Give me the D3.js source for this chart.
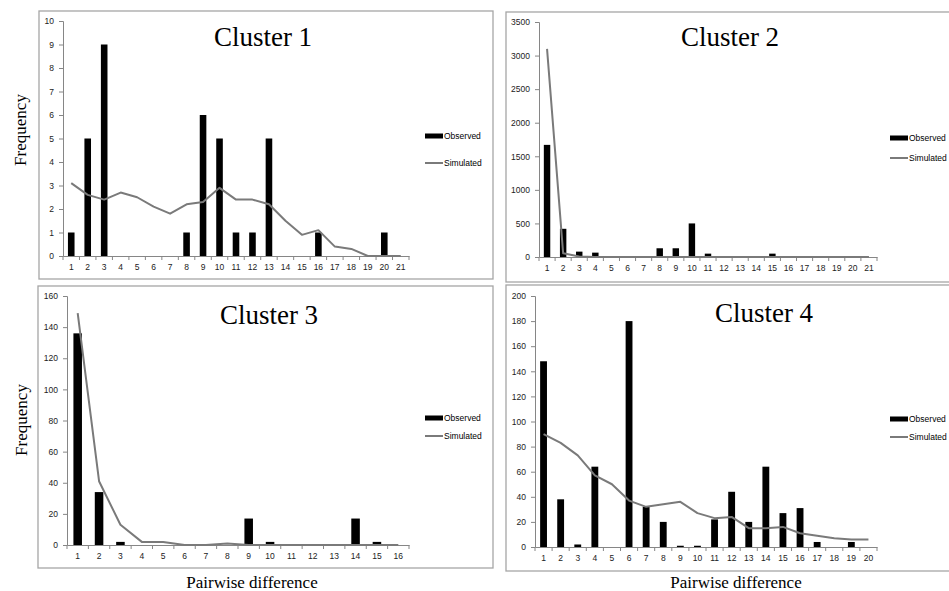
<!DOCTYPE html>
<html>
<head>
<meta charset="utf-8">
<script src="https://cdn.jsdelivr.net/npm/d3@7"></script>
<style>
  body { margin: 0; background: #fff; }
  svg { display: block; }
</style>
</head>
<body>
<div id="chart"></div>
<script>
// pairwise difference (mismatch) distributions, four clusters

var c1Observed  = [1, 5, 9, 0, 0, 0, 0, 1, 6, 5, 1, 1, 5, 0, 0, 1, 0, 0, 0, 1, 0];
var c1Simulated = [3.1, 2.6, 2.4, 2.7, 2.5, 2.1, 1.8, 2.2, 2.3, 2.9, 2.4, 2.4, 2.2, 1.5, 0.9, 1.1, 0.4, 0.3, 0, 0, 0];

var c2Observed  = [1670, 420, 80, 65, 0, 0, 0, 130, 130, 500, 50, 0, 0, 0, 50, 0, 0, 0, 0, 0, 0];
var c2Simulated = [3100, 55, 8, 0, 0, 0, 0, 0, 0, 0, 0, 0, 0, 0, 0, 0, 0, 0, 0, 0, 0];

var c3Observed  = [136, 34, 2, 0, 0, 0, 0, 0, 17, 2, 0, 0, 0, 17, 2, 0];
var c3Simulated = [149, 41, 13, 2, 2, 0, 0, 1, 0, 0, 0, 0, 0, 0, 0, 0];

var c4Observed  = [148, 38, 2, 64, 0, 180, 32, 20, 1, 1, 22, 44, 20, 64, 27, 31, 4, 0, 4, 0];
var c4Simulated = [90, 83, 73, 57, 50, 37, 32, 34, 36, 27, 23, 24, 15, 15, 16, 11, 9, 7, 6, 6];

var titles = ["Cluster 1", "Cluster 2", "Cluster 3", "Cluster 4"];
var yMaxes = [10, 3500, 160, 200];
var ySteps = [1, 500, 20, 20];

var svg = d3.select("#chart").append("svg")
  .attr("width", 949)
  .attr("height", 591);

var sans = "Liberation Sans, Arial, sans-serif";
var serif = "Liberation Serif, Times New Roman, serif";

var panels = [
  {obs: c1Observed, sim: c1Simulated, box: [39, 11, 493, 279], x0: 63, x1: 409, yTop: 21, yBot: 256,
   title: [263, 46], leg: [425, 136, 163]},
  {obs: c2Observed, sim: c2Simulated, box: [506, 12, 960, 282], x0: 539, x1: 877, yTop: 22, yBot: 257,
   title: [730, 46], leg: [890, 138, 158]},
  {obs: c3Observed, sim: c3Simulated, box: [38, 286, 493, 568], x0: 67, x1: 409, yTop: 296, yBot: 545,
   title: [269, 324], leg: [425, 418, 436]},
  {obs: c4Observed, sim: c4Simulated, box: [506, 285, 960, 571], x0: 535, x1: 877, yTop: 296, yBot: 547,
   title: [764, 322], leg: [890, 419, 437]}
];

panels.forEach(function(p, i) {
  var g = svg.append("g");
  var n = p.obs.length;
  var cats = d3.range(1, n + 1);

  // frame
  g.append("rect")
    .attr("x", p.box[0]).attr("y", p.box[1])
    .attr("width", p.box[2] - p.box[0]).attr("height", p.box[3] - p.box[1])
    .attr("fill", "none").attr("stroke", "#a6a6a6").attr("stroke-width", 1.3);

  var x = d3.scaleBand().domain(cats).range([p.x0, p.x1]).padding(0);
  var y = d3.scaleLinear().domain([0, yMaxes[i]]).range([p.yBot, p.yTop]);

  // y axis
  var yAxis = g.append("g")
    .attr("transform", "translate(" + p.x0 + ",0)")
    .call(d3.axisLeft(y)
      .tickValues(d3.range(0, yMaxes[i] + 1, ySteps[i]))
      .tickFormat(d3.format("d"))
      .tickSize(4).tickPadding(5));
  // x axis, ticks between categories
  var xAxis = g.append("g")
    .attr("transform", "translate(0," + p.yBot + ")")
    .call(d3.axisBottom(x).tickSize(0).tickPadding(8));
  xAxis.selectAll(".sep")
    .data(d3.range(0, n + 1))
    .enter().append("line")
      .attr("x1", function(k) { return p.x0 + k * x.bandwidth(); })
      .attr("x2", function(k) { return p.x0 + k * x.bandwidth(); })
      .attr("y1", 0).attr("y2", 4)
      .attr("stroke", "#868686");

  [yAxis, xAxis].forEach(function(a) {
    a.select(".domain").attr("stroke", "#868686");
    a.selectAll(".tick line").attr("stroke", "#868686");
    a.selectAll("text")
      .style("font-family", sans)
      .style("font-size", "8.5px")
      .attr("fill", "#222");
  });

  // bars
  var bw = x.bandwidth() * 0.4;
  g.selectAll(".bar")
    .data(p.obs)
    .enter().append("rect")
      .attr("x", function(d, k) { return x(cats[k]) + (x.bandwidth() - bw) / 2; })
      .attr("y", function(d) { return y(d); })
      .attr("width", bw)
      .attr("height", function(d) { return p.yBot - y(d); })
      .attr("fill", "#000");

  // simulated line
  var line = d3.line()
    .x(function(d, k) { return x(cats[k]) + x.bandwidth() / 2; })
    .y(function(d) { return y(d); });
  g.append("path")
    .datum(p.sim)
    .attr("d", line)
    .attr("fill", "none")
    .attr("stroke", "#7a7a7a")
    .attr("stroke-width", 2)
    .attr("stroke-linejoin", "round");

  // title
  g.append("text")
    .attr("x", p.title[0]).attr("y", p.title[1])
    .attr("text-anchor", "middle")
    .style("font-family", serif)
    .style("font-size", "27px")
    .text(titles[i]);

  // legend
  g.append("rect")
    .attr("x", p.leg[0]).attr("y", p.leg[1] - 2.5)
    .attr("width", 18).attr("height", 5)
    .attr("fill", "#000");
  g.append("line")
    .attr("x1", p.leg[0]).attr("x2", p.leg[0] + 18)
    .attr("y1", p.leg[2]).attr("y2", p.leg[2])
    .attr("stroke", "#7a7a7a").attr("stroke-width", 2);
  g.append("text")
    .attr("x", p.leg[0] + 19).attr("y", p.leg[1] + 3)
    .style("font-family", sans)
    .style("font-size", "8.5px")
    .text("Observed");
  g.append("text")
    .attr("x", p.leg[0] + 19).attr("y", p.leg[2] + 3)
    .style("font-family", sans)
    .style("font-size", "8.5px")
    .text("Simulated");
});

// shared axis titles
[[20, 130], [21, 420]].forEach(function(pos) {
  svg.append("text")
    .attr("transform", "translate(" + pos[0] + "," + pos[1] + ")rotate(-90)")
    .attr("text-anchor", "middle")
    .attr("dy", "0.35em")
    .style("font-family", serif)
    .style("font-size", "17px")
    .text("Frequency");
});
[[252, 582], [736, 582]].forEach(function(pos) {
  svg.append("text")
    .attr("x", pos[0]).attr("y", pos[1])
    .attr("text-anchor", "middle")
    .attr("dy", "0.35em")
    .style("font-family", serif)
    .style("font-size", "17px")
    .text("Pairwise difference");
});
</script>
</body>
</html>
